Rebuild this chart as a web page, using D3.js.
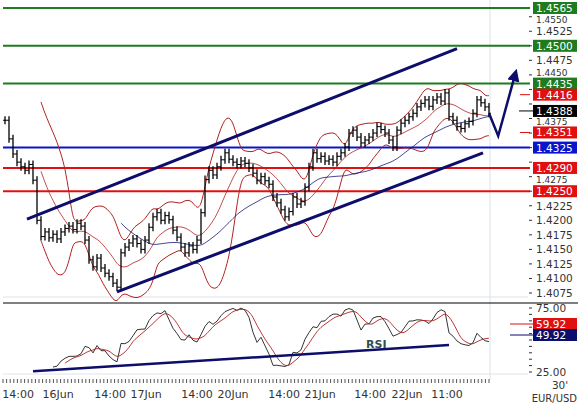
<!DOCTYPE html>
<html><head><meta charset="utf-8">
<script src="https://cdn.jsdelivr.net/npm/d3@7"></script>
<style>body{margin:0;background:#fff}svg{display:block;font-family:"DejaVu Sans",Verdana,sans-serif}</style>
</head><body><svg id="c" width="578" height="409"></svg>
<script>
// EUR/USD 30' closes (sampled every ~2 bars)
var closes = [1.4372,1.4340,1.4314,1.4300,1.4292,1.4286,1.4296,1.4269,1.4200,1.4172,1.4180,1.4170,1.4176,1.4168,1.4180,1.4186,1.4190,1.4184,1.4195,1.4190,
1.4166,1.4132,1.4120,1.4135,1.4118,1.4109,1.4103,1.4092,1.4085,1.4144,1.4154,1.4161,1.4168,1.4160,1.4150,1.4166,1.4188,1.4206,1.4213,1.4200,
1.4208,1.4201,1.4183,1.4171,1.4154,1.4144,1.4156,1.4150,1.4166,1.4213,1.4270,1.4286,1.4278,1.4292,1.4304,1.4316,1.4305,1.4300,1.4296,1.4302,
1.4298,1.4290,1.4281,1.4269,1.4275,1.4268,1.4262,1.4240,1.4230,1.4218,1.4206,1.4215,1.4240,1.4228,1.4232,1.4257,1.4292,1.4316,1.4306,1.4310,
1.4302,1.4305,1.4300,1.4310,1.4316,1.4326,1.4350,1.4355,1.4343,1.4333,1.4338,1.4343,1.4350,1.4361,1.4356,1.4350,1.4338,1.4326,1.4355,1.4367,
1.4372,1.4378,1.4384,1.4395,1.4401,1.4407,1.4396,1.4407,1.4412,1.4405,1.4419,1.4378,1.4372,1.4361,1.4358,1.4366,1.4370,1.4384,1.4407,1.4402,
1.4395,1.4384];
var timeLabels = ["14:00","16Jun","14:00","17Jun","14:00","20Jun","14:00","21Jun","14:00","22Jun","11:00"];
var timeIdx = [3.3,13.3,26.3,35.3,48,57,69.8,78.8,91.3,100.5,110.5];
var levels = [
 {v:1.4565,c:"#1e7b1e",full:true},{v:1.4500,c:"#1e7b1e",full:true},{v:1.4435,c:"#1e7b1e",full:true},
 {v:1.4416,c:"#e01010",full:false},{v:1.4351,c:"#e01010",full:false},
 {v:1.4325,c:"#0a14c8",full:true},{v:1.4290,c:"#e01010",full:true},{v:1.4250,c:"#e01010",full:true}];
var lastPrice = 1.4388;
var channelUp = [[5.5,1.4202],[113,1.4495]];
var channelLo = [[28,1.4077],[119.5,1.4316]];
var rsiLine = [[7,25.5],[111,46]];
var rsiValues = [59.92,49.92];

var svg = d3.select("#c");
var x = d3.scaleLinear().domain([0, closes.length-1]).range([5, 489]);
var y = d3.scaleLinear().domain([1.4075, 1.4565]).range([293, 8]);
var yr = d3.scaleLinear().domain([25, 75]).range([372, 308]);

// frame lines
svg.append("line").attr("x1",490).attr("x2",490).attr("y1",0).attr("y2",380).attr("stroke","#dde3ea");
svg.append("line").attr("x1",3).attr("x2",528).attr("y1",297).attr("y2",297).attr("stroke","#dde3ea");
svg.append("line").attr("x1",3).attr("x2",578).attr("y1",303).attr("y2",303).attr("stroke","#000");
svg.append("line").attr("x1",3).attr("x2",528).attr("y1",374).attr("y2",374).attr("stroke","#dde3ea");

// levels
levels.forEach(function(l){
  svg.append("line").attr("x1", l.full?3:520).attr("x2",530).attr("y1",y(l.v)).attr("y2",y(l.v))
    .attr("stroke",l.c).attr("stroke-width", l.full?2:1);
});

// indicators
function sma(a,n){return a.map(function(d,i){ if(i<n-1) return null; return d3.mean(a.slice(i-n+1,i+1)); });}
var mid = sma(closes,10);
var bands = closes.map(function(d,i){ if(i<9) return null; var s=d3.deviation(closes.slice(i-9,i+1)); return [mid[i]+2*s, mid[i]-2*s]; });
var ma30 = sma(closes,30);
function path(arr, sc, fn){ return d3.line().defined(function(d){return d!=null;}).x(function(d,i){return x(i);}).y(function(d){return sc(fn?fn(d):d);}).curve(d3.curveBasis)(arr); }
svg.append("path").attr("d",path(bands,y,function(d){return d[0];})).attr("fill","none").attr("stroke","#b22222");
svg.append("path").attr("d",path(bands,y,function(d){return d[1];})).attr("fill","none").attr("stroke","#b22222");
svg.append("path").attr("d",path(mid,y)).attr("fill","none").attr("stroke","#b22222").attr("stroke-width",0.8);
svg.append("path").attr("d",path(ma30,y)).attr("fill","none").attr("stroke","#1a1a7a").attr("stroke-width",0.8);

// OHLC bars
var g = svg.append("g").attr("stroke","#000");
closes.forEach(function(c,i){
  var o = i ? closes[i-1] : c;
  var hi = Math.max(o,c), lo = Math.min(o,c);
  var yh = y(hi)-4, yl = y(lo)+4;
  g.append("line").attr("x1",x(i)).attr("x2",x(i)).attr("y1",yh).attr("y2",yl).attr("stroke-width",1.3);
  g.append("line").attr("x1",x(i)-2).attr("x2",x(i)).attr("y1",y(o)).attr("y2",y(o));
  g.append("line").attr("x1",x(i)).attr("x2",x(i)+2).attr("y1",y(c)).attr("y2",y(c));
});

// channel
[channelUp, channelLo].forEach(function(ch){
  svg.append("line").attr("x1",x(ch[0][0])).attr("y1",y(ch[0][1])).attr("x2",x(ch[1][0])).attr("y2",y(ch[1][1]))
    .attr("stroke","#0d0d6b").attr("stroke-width",3);
});
// projection arrow
svg.append("defs").append("marker").attr("id","ah").attr("viewBox","0 0 10 10").attr("refX",5).attr("refY",5)
  .attr("markerWidth",5).attr("markerHeight",5).attr("orient","auto")
  .append("path").attr("d","M0,0L10,5L0,10z").attr("fill","#0d0d6b");
svg.append("polyline").attr("points",[[x(121),y(1.4384)],[x(123.3),y(1.4345)],[x(127.5),y(1.4450)]].join(" "))
  .attr("fill","none").attr("stroke","#0d0d6b").attr("stroke-width",2.5).attr("marker-end","url(#ah)");

// price axis
var tickVals = d3.range(1.4075, 1.45651, 0.0025);
var boxVals = levels.map(function(l){return l.v;}).concat([lastPrice]);
var ax = svg.append("g").attr("font-size",10.5).attr("fill","#333");
tickVals.forEach(function(v){
  ax.append("line").attr("x1",529).attr("x2",532).attr("y1",y(v)).attr("y2",y(v)).attr("stroke","#333");
  var near = boxVals.filter(function(b){return Math.abs(y(b)-y(v))<10;});
  if (near.some(function(b){return Math.abs(y(b)-y(v))<7;})) return;
  var ty = y(v)+4;
  if (near.length) ty += (y(v) > y(near[0]) ? 2.5 : -2.5);
  ax.append("text").attr("x",536).attr("y",ty).attr("font-size",near.length?9:10.5).text(v.toFixed(4));
});
function box(val,yy,fill,txt){
  svg.append("rect").attr("x",533).attr("y",yy-6).attr("width",44).attr("height",12).attr("fill",fill);
  svg.append("text").attr("x",536).attr("y",yy+4).attr("font-size",10.5).attr("fill","#fff").text(txt);
}
levels.forEach(function(l){ box(l.v, y(l.v), l.c, l.v.toFixed(4)); });
svg.append("line").attr("x1",519).attr("x2",533).attr("y1",y(lastPrice)).attr("y2",y(lastPrice)).attr("stroke","#000");
box(lastPrice, y(lastPrice), "#000", lastPrice.toFixed(4));

// RSI
function rsi(a,n){
  return a.map(function(d,i){
    if(i<n) return null; var up=0,dn=0;
    for(var k=i-n+1;k<=i;k++){var ch=a[k]-a[k-1]; if(ch>0) up+=ch; else dn-=ch;}
    return dn===0?100:100-100/(1+up/dn);
  });
}
var r = rsi(closes,12).map(function(d){return d==null?null:53+(d-50)*0.6;});
var rSig = sma(r.map(function(d){return d==null?0:d;}),4).map(function(d,i){return i<15?null:d;});
svg.append("path").attr("d",d3.line().defined(function(d){return d!=null;}).x(function(d,i){return x(i);}).y(function(d){return yr(d);})(r))
  .attr("fill","none").attr("stroke","#000").attr("stroke-width",0.8);
svg.append("path").attr("d",path(rSig,yr)).attr("fill","none").attr("stroke","#b22222").attr("stroke-width",0.9);
svg.append("line").attr("x1",x(rsiLine[0][0])).attr("y1",yr(rsiLine[0][1])).attr("x2",x(rsiLine[1][0])).attr("y2",yr(rsiLine[1][1]))
  .attr("stroke","#0d0d6b").attr("stroke-width",2.5);
svg.append("text").attr("x",366).attr("y",348).attr("font-size",11).attr("font-weight","bold").attr("fill","#2f4f4f").text("RSI");
d3.range(25,75.1,5).forEach(function(v){
  svg.append("line").attr("x1",529).attr("x2",532).attr("y1",yr(v)).attr("y2",yr(v)).attr("stroke","#333");
});
[75,25].forEach(function(v){ svg.append("text").attr("x",536).attr("y",yr(v)+4).attr("font-size",10.5).attr("fill","#333").text(v.toFixed(2)); });
[["#e01010",324],["#0d0d6b",335]].forEach(function(b,i){
  svg.append("line").attr("x1",510).attr("x2",533).attr("y1",b[1]).attr("y2",b[1]).attr("stroke",b[0]);
  box(rsiValues[i], b[1], b[0], rsiValues[i].toFixed(2));
});

// time axis
d3.range(3, 490, 3.6).forEach(function(px){
  svg.append("line").attr("x1",px).attr("x2",px).attr("y1",379).attr("y2",383).attr("stroke","#555");
});
timeLabels.forEach(function(t,i){
  svg.append("text").attr("x",x(timeIdx[i])).attr("y",398).attr("text-anchor","middle").attr("font-size",11).attr("fill","#333").text(t);
});
svg.append("text").attr("x",560).attr("y",389).attr("text-anchor","middle").attr("font-size",10.5).attr("fill","#333").text("30'");
svg.append("text").attr("x",577).attr("y",402).attr("text-anchor","end").attr("font-size",10).attr("fill","#333").text("EUR/USD");
</script></body></html>
